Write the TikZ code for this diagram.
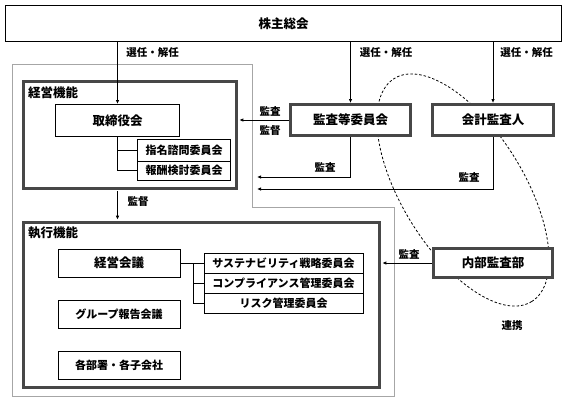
\documentclass[tikz,border=0pt]{standalone}
\usepackage{fontspec}
\setmainfont{Noto Sans CJK JP}
\usetikzlibrary{arrows.meta}
\begin{document}
\begin{tikzpicture}[x=1pt,y=-1pt,
  big/.style={font=\bfseries\fontsize{12.5}{14}\selectfont},
  small/.style={font=\bfseries\fontsize{11}{13}\selectfont},
  box/.style={draw=black, line width=1pt, fill=white, inner sep=0pt},
  thickbox/.style={draw=black!72, line width=2.6pt, fill=white, inner sep=0pt},
  frame/.style={draw=black!72, line width=2.6pt, inner sep=0pt},
  lbl/.style={font=\bfseries\fontsize{10.5}{12}\selectfont, inner sep=0pt},
  arr/.style={-{Latex[length=4pt,width=3.5pt]}, line width=0.9pt},
  conn/.style={line width=0.9pt},
  outline/.style={draw=black!35, line width=1pt},
  link/.style={dash pattern=on 2.5pt off 2pt, line width=0.8pt}]
\useasboundingbox (0,0) rectangle (567,400);
% gray outline
\draw[outline] (12,64) -- (252,64) -- (252,207) -- (394,207) -- (394,396) -- (12,396) -- cycle;
% dashed link ellipse
\draw[link, rotate around={-58.4:(463,190)}] (463,190) ellipse (131pt and 61pt);
% frames
\node[frame, minimum width=213.4pt, minimum height=107.4pt] (keiei) at (130,135) {};
\node[big, anchor=west, inner sep=0pt] (keieil) at (28,93) {経営機能};
\node[frame, minimum width=356.4pt, minimum height=165.4pt] (shikko) at (201.5,305) {};
\node[big, anchor=west, inner sep=0pt] (shikkol) at (28,233) {執行機能};
% boxes
\node[box, big, minimum width=556pt, minimum height=36pt] (sh) at (283.5,23.5) {株主総会};
\node[box, big, minimum width=124pt, minimum height=32pt] (tori) at (117.5,120.5) {取締役会};
\node[box, small, minimum width=93pt, minimum height=22pt] (shimei) at (184,150) {指名諮問委員会};
\node[box, small, minimum width=93pt, minimum height=19pt] (hoshu) at (184,170.5) {報酬検討委員会};
\node[thickbox, big, minimum width=120.4pt, minimum height=31.4pt] (kansa) at (350.5,120) {監査等委員会};
\node[thickbox, big, minimum width=121.4pt, minimum height=31.4pt] (kaikei) at (493,120) {会計監査人};
\node[thickbox, big, minimum width=119.4pt, minimum height=29.4pt] (naibu) at (493,263) {内部監査部};
\node[box, big, minimum width=122pt, minimum height=28pt] (kaigi) at (119,263) {経営会議};
\node[box, small, minimum width=122pt, minimum height=28pt] (group) at (119,314) {グループ報告会議};
\node[box, small, minimum width=122pt, minimum height=28pt] (kakubu) at (119,365) {各部署・各子会社};
\node[box, small, minimum width=159pt, minimum height=20pt] (c1) at (283.5,263) {サステナビリティ戦略委員会};
\node[box, small, minimum width=159pt, minimum height=20pt] (c2) at (283.5,283) {コンプライアンス管理委員会};
\node[box, small, minimum width=159pt, minimum height=20pt] (c3) at (283.5,303) {リスク管理委員会};
% coordinates
\coordinate (p1) at (257,177);
\coordinate (p2) at (257,189);
\coordinate (bx) at (193,263);
% arrows
\draw[arr] (sh.south -| tori) -- (tori.north);
\draw[arr] (sh.south -| kansa) -- (kansa.north);
\draw[arr] (sh.south -| kaikei) -- (kaikei.north);
\draw[arr, shorten >=1.3pt] (kansa.west) -- (kansa.west -| keiei.east);
\draw[arr] (kansa.south) |- (p1);
\draw[arr] (kaikei.south) |- (p2);
\draw[arr, shorten <=1.3pt, shorten >=1.3pt] (keiei.south -| tori) -- (shikko.north -| tori);
\draw[arr, shorten >=1.3pt] (naibu.west) -- (naibu.west -| shikko.east);
% connectors
\draw[conn] (tori.south) |- (hoshu.west);
\draw[conn] (tori.south |- shimei.west) -- (shimei.west);
\draw[conn] (kaigi.east) -- (c1.west);
\draw[conn] (bx) |- (c3.west);
\draw[conn] (bx |- c2.west) -- (c2.west);
% labels
\node[lbl] (l1) at (152.5,53) {選任・解任};
\node[lbl] (l2) at (386,53) {選任・解任};
\node[lbl] (l3) at (526.5,53) {選任・解任};
\node[lbl] (l4) at (270,111) {監査};
\node[lbl] (l5) at (270,131) {監督};
\node[lbl] (l6) at (325,167) {監査};
\node[lbl] (l7) at (469,177) {監査};
\node[lbl] (l8) at (138,202) {監督};
\node[lbl] (l9) at (409,254) {監査};
\node[lbl] (l10) at (512,326) {連携};
\end{tikzpicture}
\end{document}
